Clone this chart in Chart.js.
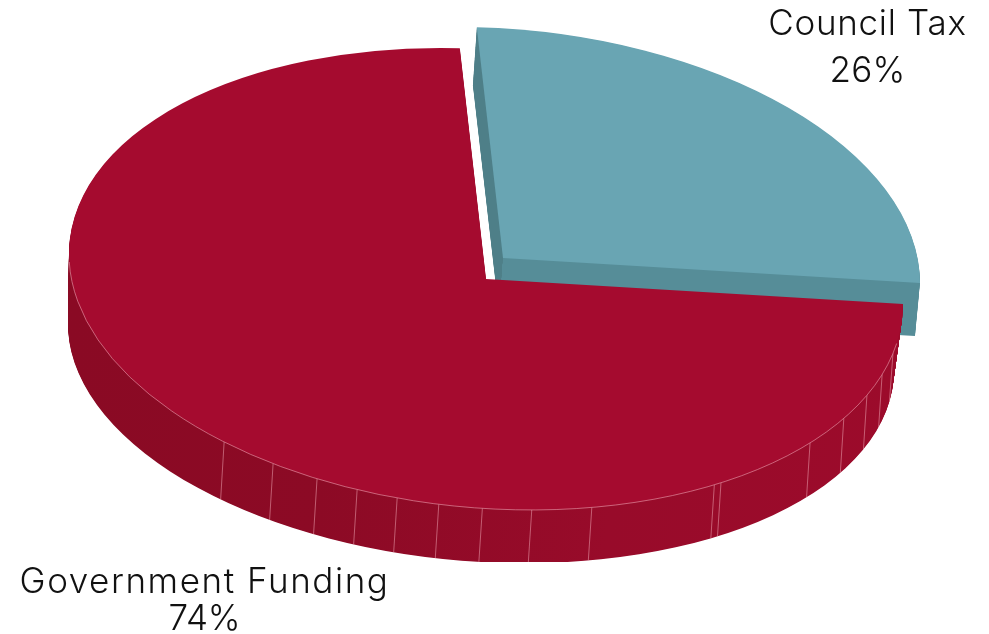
<!DOCTYPE html>
<html>
<head>
<meta charset="utf-8">
<style>html,body{margin:0;padding:0;background:#fff}canvas{display:block}</style>
<script src="https://cdn.jsdelivr.net/npm/chart.js@4"></script>
</head>
<body>
<canvas id="c" width="989" height="634"></canvas>
<script>
const categories = ['Council Tax', 'Government Funding'];
const values = [26, 74];
const startAngle = -3.6;
const topColors = ['#69A5B3', '#A50B2F'];
// Seams on the red wall, as angles clockwise from 12 o'clock
const seamAngles = [218.9,210.7,203.9,198,192.3,186.5,180.5,173.7,165.3,146.8,145.7,129,120.9,114,108.2,102.6];
const seamLean = -3.5;

// Tilted-disc projection: [centre x, centre y, x radius, shear, y radius]
const faceRed  = {cx:486, cy:279, rx:417, s:25, ry:229.6};
const baseRed  = {cx:481, cy:347, rx:413, s:22.8, ry:215};
const faceTeal = {cx:503, cy:258, rx:417, s:25, ry:229.6};
const baseTeal = {cx:499, cy:312, rx:416, s:24, ry:226};
const wallBottomClip = 562;

const labelPlacement = [
  {x:867.5, y1:35, y2:81.5, nameSpacing:.7, pctSpacing:.2},
  {x:204.5, y1:593, y2:630, nameSpacing:1.55, pctSpacing:-.2}
];

function lerp(a,b,t){const o={};for(const k in a)o[k]=a[k]+(b[k]-a[k])*t;return o;}
function project(ctx,g,arc){
  const R=arc.outerRadius;
  ctx.translate(g.cx,g.cy);
  ctx.transform(g.rx/R,g.s/R,0,g.ry/R,0,0);
  ctx.translate(-arc.x,-arc.y);
}
function drawWith(ctx,arc,g,color){
  const o=arc.options;
  const over=Object.create(o);
  over.backgroundColor=color;
  over.borderWidth=0;
  arc.options=over;
  ctx.save();project(ctx,g,arc);arc.draw(ctx);ctx.restore();
  arc.options=o;
}
function extrude(ctx,arc,top,base,color){
  const n=70;
  for(let i=n;i>=1;i--) drawWith(ctx,arc,lerp(top,base,i/n),color);
}
function pt(g,deg){
  const a=deg*Math.PI/180,X=Math.sin(a),Y=-Math.cos(a);
  return [g.cx+g.rx*X,g.cy+g.s*X+g.ry*Y];
}
function frontY(g,x){
  const X=Math.max(-1,Math.min(1,(x-g.cx)/g.rx));
  return g.cy+g.s*X+g.ry*Math.sqrt(1-X*X);
}

const pie3d={
  id:'pie3d',
  beforeDatasetDraw(chart,args){
    const ctx=chart.ctx, arcs=chart.getDatasetMeta(args.index).data;
    const teal=arcs[0], red=arcs[1];

    // teal wedge
    const xl=teal.x-teal.outerRadius, xr=teal.x+teal.outerRadius;
    const gt=ctx.createLinearGradient(xl,0,xr,0);
    gt.addColorStop(0,'#4E7F88');gt.addColorStop(.5,'#4E7F88');
    gt.addColorStop(.5,'#568D98');gt.addColorStop(1,'#568D98');
    extrude(ctx,teal,faceTeal,baseTeal,gt);
    drawWith(ctx,teal,faceTeal,topColors[0]);

    // red wedge
    const gr=ctx.createLinearGradient(xl,0,xr,0);
    gr.addColorStop(0,'#8A0A24');gr.addColorStop(.3,'#8C0A25');
    gr.addColorStop(.65,'#980B2A');gr.addColorStop(1,'#9C0B2B');
    ctx.save();
    ctx.beginPath();ctx.rect(0,0,chart.width,wallBottomClip);ctx.clip();
    extrude(ctx,red,faceRed,baseRed,gr);
    // seams
    ctx.strokeStyle='rgba(235,160,175,.55)';ctx.lineWidth=1;
    for(const d of seamAngles){
      const a=pt(faceRed,d),bx=a[0]+seamLean;
      ctx.beginPath();ctx.moveTo(a[0],a[1]);ctx.lineTo(bx,frontY(baseRed,bx));ctx.stroke();
    }
    ctx.restore();
    drawWith(ctx,red,faceRed,topColors[1]);

    // pale rim along the front edge
    ctx.save();
    project(ctx,faceRed,red);
    ctx.beginPath();
    ctx.arc(red.x,red.y,red.outerRadius,(100-90)*Math.PI/180,(268-90)*Math.PI/180);
    ctx.restore();
    ctx.strokeStyle='rgba(240,170,185,.7)';ctx.lineWidth=.8;ctx.stroke();
    return false;
  },
  afterDraw(chart){
    const ctx=chart.ctx;
    ctx.save();
    ctx.fillStyle='#111';ctx.textAlign='center';ctx.textBaseline='alphabetic';
    ctx.font='350 35px Inter, "Open Sans", sans-serif';
    categories.forEach((c,i)=>{
      const p=labelPlacement[i];
      ctx.letterSpacing=p.nameSpacing+'px';
      ctx.fillText(c,p.x,p.y1);
      ctx.letterSpacing=p.pctSpacing+'px';
      ctx.fillText(values[i]+'%',p.x,p.y2);
    });
    ctx.restore();
  }
};

new Chart(document.getElementById('c'),{
  type:'pie',
  data:{labels:categories,datasets:[{data:values,backgroundColor:topColors,borderWidth:0}]},
  options:{
    responsive:false,animation:false,rotation:startAngle,
    layout:{padding:0},
    plugins:{legend:{display:false},tooltip:{enabled:false}}
  },
  plugins:[pie3d]
});
</script>
</body>
</html>
